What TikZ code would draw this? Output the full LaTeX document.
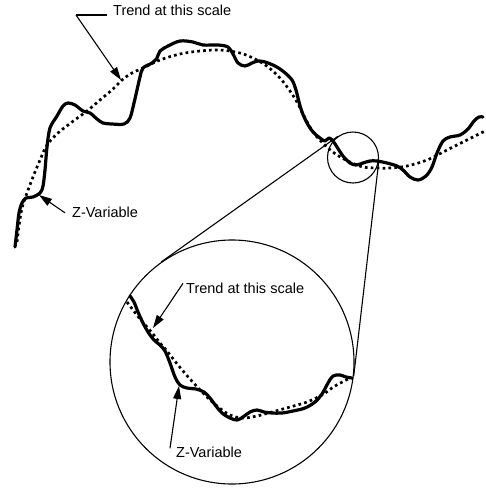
\documentclass[tikz,border=0pt]{standalone}
\usepackage{fontspec}
\setmainfont{Liberation Sans}
\usetikzlibrary{arrows.meta,calc}
\begin{document}
\begin{tikzpicture}[x=1pt,y=-1pt,
  thinline/.style={line width=1.1pt},
  profile/.style={line width=3.2pt, line join=round, line cap=round},
  trend/.style={line width=2.7pt, dash pattern=on 2.7pt off 3.2pt},
  leader/.style={line width=1.1pt, -{Triangle[length=13pt,width=8pt]}},
  lbl/.style={font=\fontsize{14.5}{16}\selectfont, inner sep=0pt, anchor=base west}
]
\fill[white] (0,0) rectangle (486,488);
\useasboundingbox (0,0) rectangle (486,488);

% magnifier: small lens, enlarged view and their common tangents
\node[circle, draw, thinline, minimum size=51pt, inner sep=0pt] (lens) at (353,157.5) {};
\node[circle, draw, thinline, minimum size=244pt, inner sep=0pt] (zoomc) at (232,362) {};
\coordinate (H) at (385.3,102.9);
\draw[thinline] (tangent cs:node=lens,point={(H)},solution=1) -- (tangent cs:node=zoomc,point={(H)},solution=1);
\draw[thinline] (tangent cs:node=lens,point={(H)},solution=2) -- (tangent cs:node=zoomc,point={(H)},solution=2);

% large-scale profile
\draw[trend] plot[smooth, tension=0.55] coordinates {
  (17,242) (19,226) (22,208) (27,193) (33,177) (40,160) (47,145) (58,133) (72,122)
  (87,111) (100,100) (113,89) (122,80) (132,73) (143,68) (160,60) (180,54) (200,51)
  (220,50) (240,53) (255,59) (268,67) (280,78) (290,91) (297,102) (303,114) (310,127)
  (317,137) (327,147) (337,155) (350,162) (363,167) (377,168) (390,168) (407,166)
  (427,160) (447,150) (467,140) (485,131)};
\draw[profile] plot[smooth, tension=0.55] coordinates {
  (15,247) (17,230) (19,213) (22,203) (26,198) (33,197) (40,193) (43,186) (45,170)
  (47,147) (50,128) (57,116) (63,106) (68,103) (75,105) (83,111) (90,113) (97,119)
  (103,123) (112,124) (124,124) (130,118) (134,103) (137,90) (140,77) (143,68)
  (152,63) (157,58) (160,51) (168,46) (180,41) (193,42) (203,45) (218,45) (228,47)
  (233,54) (238,63) (245,66) (252,63) (258,61) (265,62) (275,66) (284,72) (292,80)
  (296,90) (299,102) (302,112) (307,123) (313,132) (320,138) (325,141) (329,138)
  (333,141) (337,147) (343,156) (350,163) (356,165) (363,163) (370,161) (377,161)
  (387,163) (397,166) (403,170) (410,177) (418,180) (426,176) (432,167) (437,153)
  (443,141) (450,137) (460,135) (468,129) (474,121) (479,117) (483,117)};

% enlarged profile
\draw[trend] plot[smooth, tension=0.55] coordinates {
  (127,302) (133,310) (140,319) (147,327) (153,334) (160,343) (167,351) (178,365)
  (190,379) (203,393) (217,406) (230,415) (243,418) (257,416) (272,412) (290,407)
  (307,402) (322,395) (335,386) (350,378)};
\draw[profile] plot[smooth, tension=0.55] coordinates {
  (130,296) (134,302) (138,312) (143,323) (148,332) (154,340) (160,345) (165,351)
  (170,363) (175,377) (180,385) (187,388) (196,389) (204,392) (210,398) (216,406)
  (222,413) (230,418) (237,420) (243,417) (250,412) (257,410) (264,412) (272,413)
  (282,413) (293,411) (305,408) (315,402) (322,394) (328,383) (333,376) (340,375)
  (346,377) (352,378)};

% labels
\node[lbl] (trendA) at (113,15) {Trend at this scale};
\node[lbl] (zvarA) at (72,217) {Z-Variable};
\node[lbl] (trendB) at (186,293) {Trend at this scale};
\node[lbl] (zvarB) at (176,457) {Z-Variable};

% leaders
\coordinate (tA1) at ($(trendA.base west)+(-6,0)$);
\coordinate (tA2) at (76,15);
\coordinate (tAtip) at (121,80);
\draw[thinline] (tA1) -- (tA2);
\draw[leader] (tA2) -- (tAtip);
\coordinate (zAtip) at (39,195);
\draw[leader] ($(zvarA.west)+(-7,1)$) -- (zAtip);
\coordinate (tBtip) at (153,328);
\draw[leader] ($(trendB.north west)+(-3,1)$) -- (tBtip);
\coordinate (zBtip) at (179,386);
\draw[leader] ($(zvarB.north west)+(-6,2)$) -- (zBtip);
\end{tikzpicture}
\end{document}
